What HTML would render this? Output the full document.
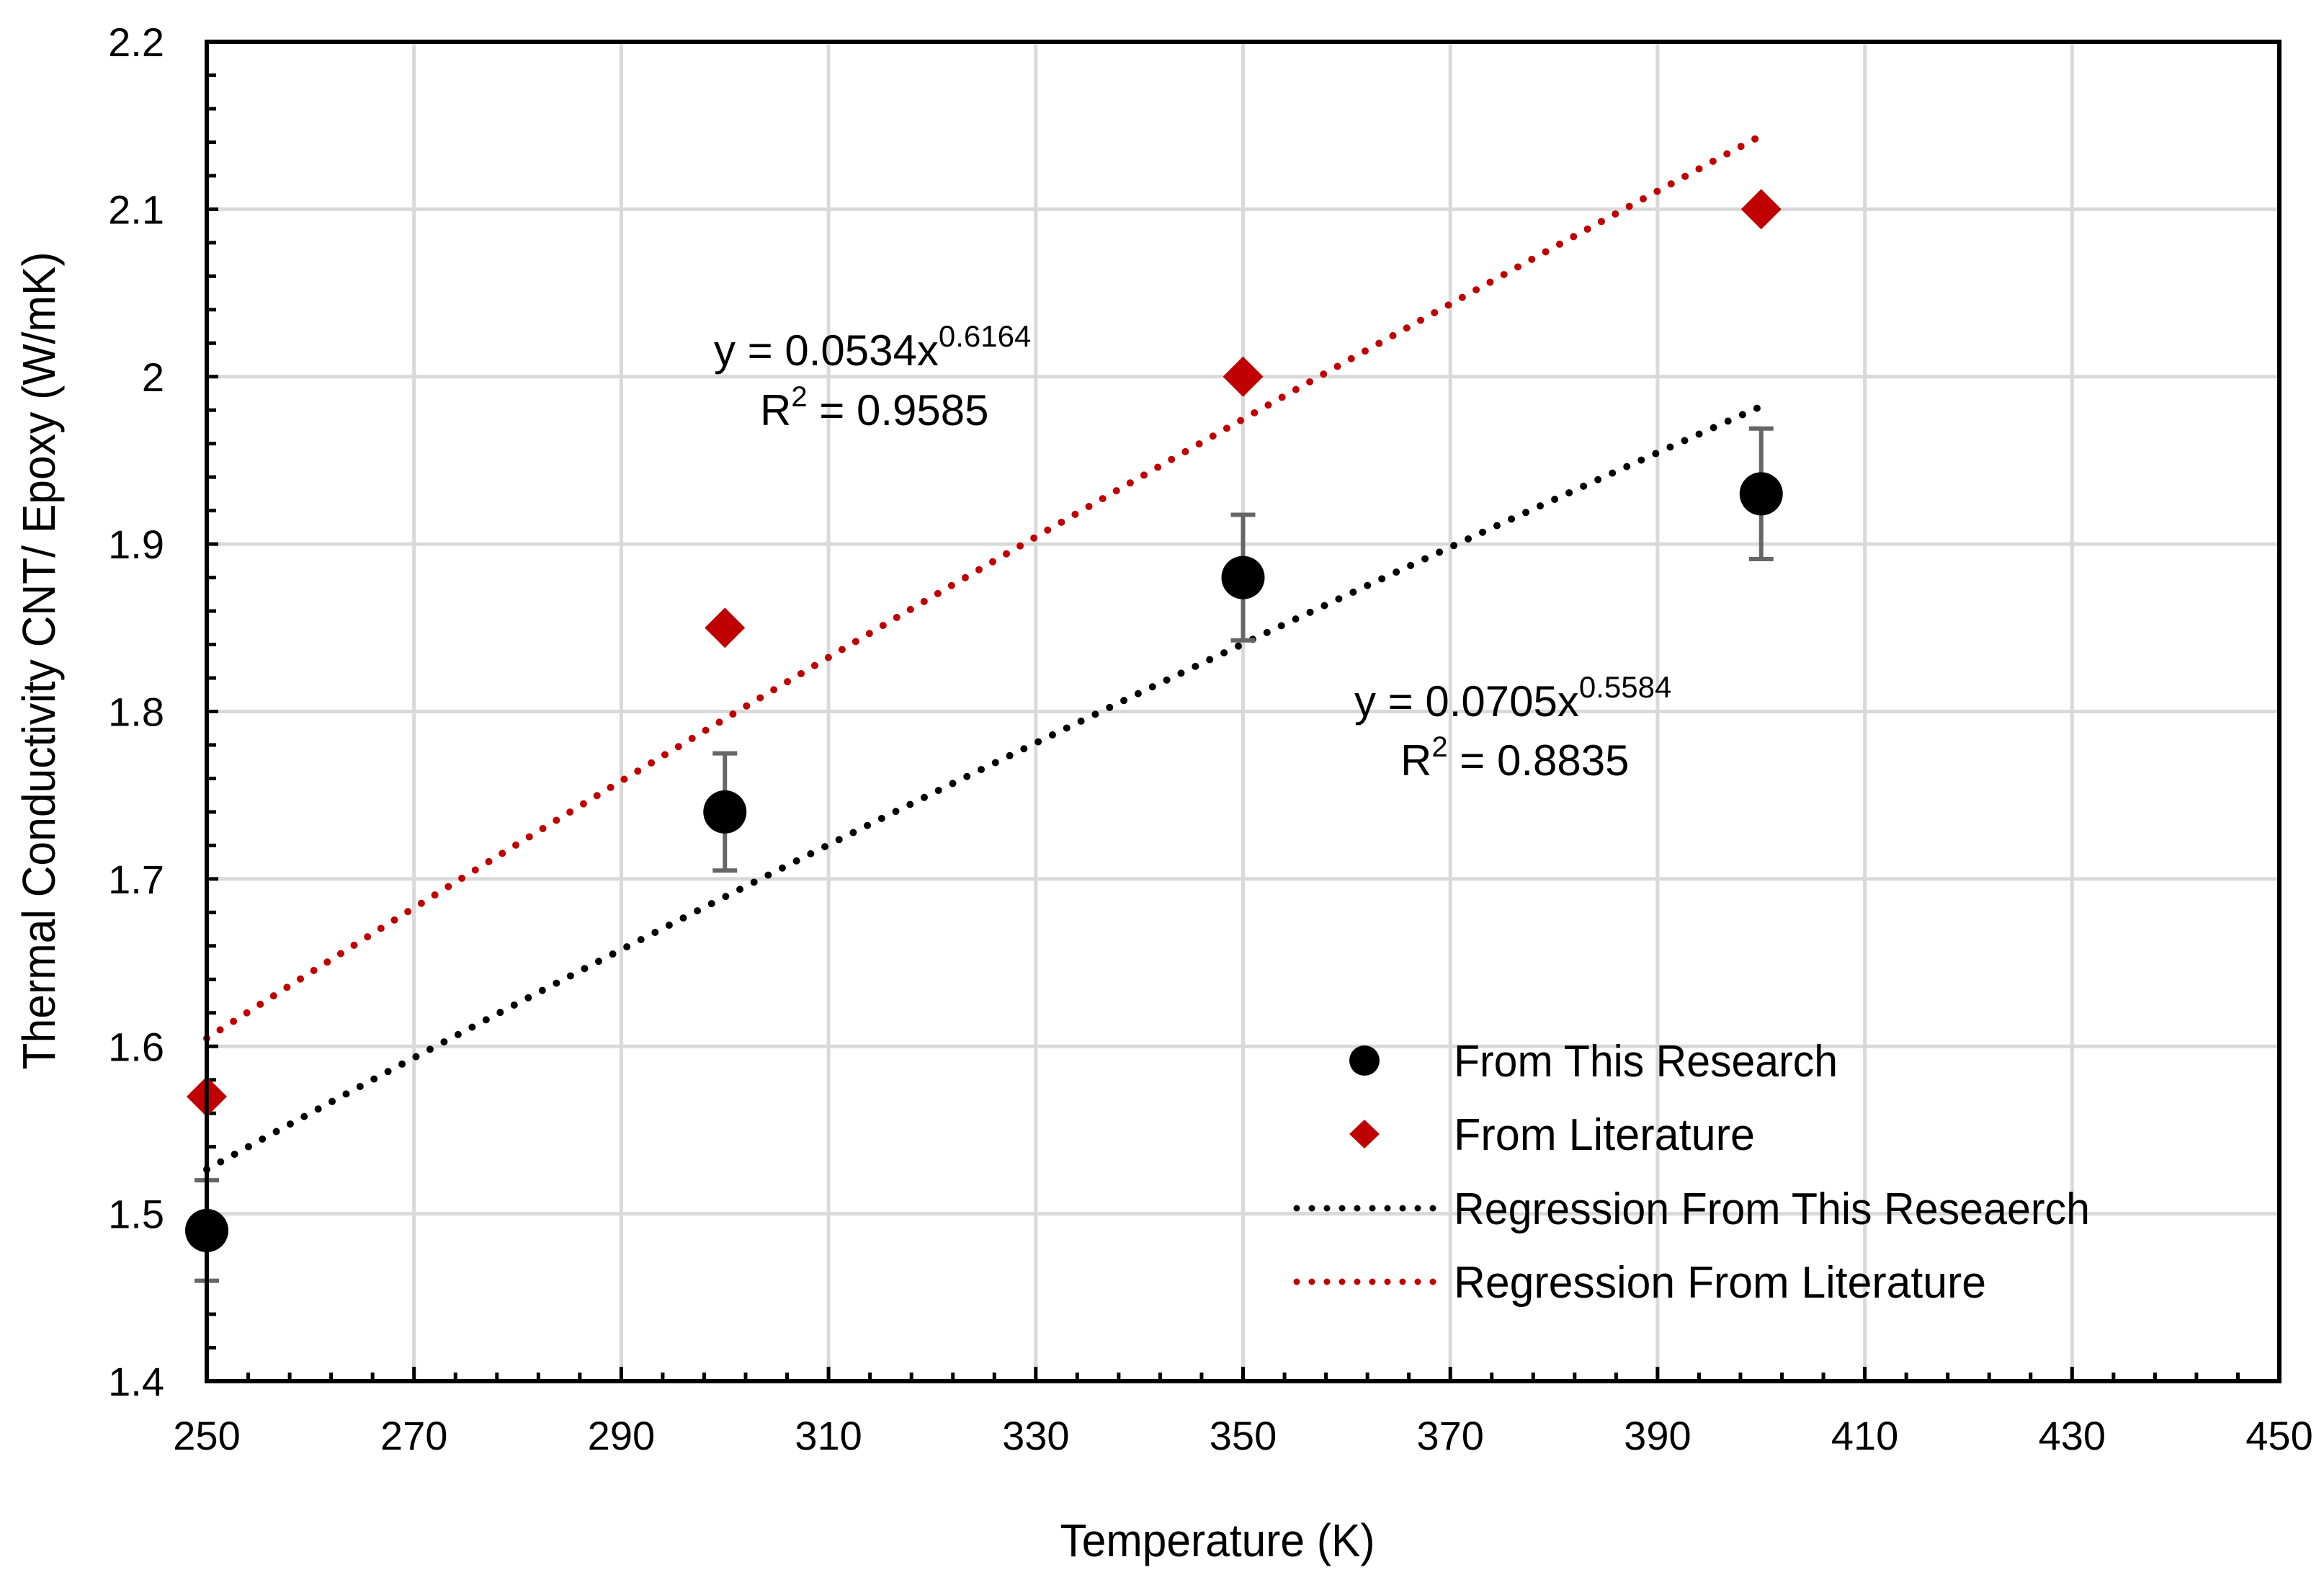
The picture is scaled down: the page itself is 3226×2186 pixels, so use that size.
<!DOCTYPE html>
<html><head><meta charset="utf-8"><style>
html,body{margin:0;padding:0;background:#fff;}
svg{display:block;font-family:"Liberation Sans",sans-serif;}
</style></head><body>
<svg id="chart" width="3226" height="2186" viewBox="0 0 3226 2186" xmlns="http://www.w3.org/2000/svg">
<g id="grid"></g>
<g id="ticks"></g>
<g id="fits"></g>
<g id="marks"></g>
<rect x="287" y="58" width="2877" height="1859" fill="none" stroke="#000" stroke-width="6"/>
<g id="labels" font-size="56" fill="#000"></g>
<text x="1690" y="2160" font-size="64" text-anchor="middle" textLength="437" lengthAdjust="spacingAndGlyphs">Temperature (K)</text>
<text transform="translate(76,917) rotate(-90)" font-size="64" text-anchor="middle" textLength="1135" lengthAdjust="spacingAndGlyphs">Thermal Conductivity CNT/ Epoxy (W/mK)</text>
<g font-size="60">
<text x="991" y="507">y = 0.0534x<tspan font-size="42" dy="-26">0.6164</tspan></text>
<text x="1055" y="590">R<tspan font-size="40" dy="-26">2</tspan><tspan dy="26"> = 0.9585</tspan></text>
</g>
<g font-size="60">
<text x="1880" y="994">y = 0.0705x<tspan font-size="42" dy="-26">0.5584</tspan></text>
<text x="1944" y="1076">R<tspan font-size="40" dy="-26">2</tspan><tspan dy="26"> = 0.8835</tspan></text>
</g>
<g font-size="62">
<circle cx="1894" cy="1472" r="21" fill="#000"/>
<text x="2018" y="1494" textLength="533" lengthAdjust="spacingAndGlyphs">From This Research</text>
<polygon points="1894,1554 1915,1574 1894,1594 1873,1574" fill="#C00000"/>
<text x="2018" y="1596" textLength="418" lengthAdjust="spacingAndGlyphs">From Literature</text>
<line x1="1800" y1="1677" x2="1990" y2="1677" stroke="#000" stroke-width="9" stroke-linecap="round" stroke-dasharray="0 21"/>
<text x="2018" y="1699" textLength="883" lengthAdjust="spacingAndGlyphs">Regression From This Reseaerch</text>
<line x1="1800" y1="1779" x2="1990" y2="1779" stroke="#C00000" stroke-width="9" stroke-linecap="round" stroke-dasharray="0 21"/>
<text x="2018" y="1801" textLength="739" lengthAdjust="spacingAndGlyphs">Regression From Literature</text>
</g>
</svg>
<script>
const temps = [250, 300, 350, 400];
const research = [1.49, 1.74, 1.88, 1.93];
const researchErr = [0.03, 0.035, 0.0375, 0.039];
const literature = [1.57, 1.85, 2.0, 2.1];
const xTicks = [250, 270, 290, 310, 330, 350, 370, 390, 410, 430, 450];
const yTicks = [1.4, 1.5, 1.6, 1.7, 1.8, 1.9, 2, 2.1, 2.2];

const NS = "http://www.w3.org/2000/svg";
const X0 = 287, X1 = 3164, Y0 = 1917, Y1 = 58;
const xs = v => X0 + (v - 250) / 200 * (X1 - X0);
const ys = v => Y0 - (v - 1.4) / 0.8 * (Y0 - Y1);
function mk(tag, attrs, parent) {
  const e = document.createElementNS(NS, tag);
  for (const k in attrs) e.setAttribute(k, attrs[k]);
  parent.appendChild(e);
  return e;
}
const grid = document.getElementById('grid');
const ticks = document.getElementById('ticks');
const labels = document.getElementById('labels');
const fits = document.getElementById('fits');
const marks = document.getElementById('marks');

xTicks.forEach(t => {
  const x = xs(t);
  const g = mk('line', {x1: x, y1: Y1, x2: x, y2: Y0, stroke: '#D9D9D9', 'stroke-width': 5}, grid);
  
  
  const tk = mk('line', {x1: x, y1: Y0, x2: x, y2: Y0 - 20, stroke: '#000', 'stroke-width': 5}, ticks);
  
  
  const lb = mk('text', {x: x, y: 2012, 'text-anchor': 'middle'}, labels);
  lb.textContent = t;
  
  
});
for (let v = 254; v < 450; v += 4) {
  if ((v - 250) % 20 === 0) continue;
  const tk = mk('line', {x1: xs(v), y1: Y0, x2: xs(v), y2: Y0 - 12, stroke: '#000', 'stroke-width': 5}, ticks);
  
  
}
yTicks.forEach(t => {
  const y = ys(t);
  const g = mk('line', {x1: X0, y1: y, x2: X1, y2: y, stroke: '#D9D9D9', 'stroke-width': 5}, grid);
  
  
  const tk = mk('line', {x1: X0, y1: y, x2: X0 + 16, y2: y, stroke: '#000', 'stroke-width': 5}, ticks);
  
  
  const lb = mk('text', {x: 228, y: y + 20, 'text-anchor': 'end'}, labels);
  lb.textContent = t;
  
  
});
for (let i = 1; i < 40; i++) {
  if (i % 5 === 0) continue;
  const y = ys(1.4 + i * 0.02);
  const tk = mk('line', {x1: X0, y1: y, x2: X0 + 13, y2: y, stroke: '#000', 'stroke-width': 5}, ticks);
  
  
}

function powerFit(xv, yv) {
  const n = xv.length;
  let sx = 0, sy = 0, sxx = 0, sxy = 0;
  for (let i = 0; i < n; i++) {
    const lx = Math.log(xv[i]), ly = Math.log(yv[i]);
    sx += lx; sy += ly; sxx += lx * lx; sxy += lx * ly;
  }
  const b = (n * sxy - sx * sy) / (n * sxx - sx * sx);
  const a = Math.exp((sy - b * sx) / n);
  return x => a * Math.pow(x, b);
}
function drawFit(yv, color, name) {
  const f = powerFit(temps, yv);
  const pts = [];
  const lo = Math.min(...temps), hi = Math.max(...temps);
  for (let i = 0; i <= 60; i++) {
    const t = lo + (hi - lo) * i / 60;
    pts.push(xs(t).toFixed(1) + ',' + ys(f(t)).toFixed(1));
  }
  const p = mk('polyline', {points: pts.join(' '), fill: 'none', stroke: color, 'stroke-width': 10, 'stroke-linecap': 'round', 'stroke-dasharray': '0 22'}, fits);
  
  
}
drawFit(research, '#000', 'regression-research');
drawFit(literature, '#C00000', 'regression-literature');

temps.forEach((t, i) => {
  const x = xs(t);
  const yt = ys(research[i] + researchErr[i]), yb = ys(research[i] - researchErr[i]);
  const eb = mk('path', {d: `M${x},${yt}V${yb}M${x - 17},${yt}H${x + 17}M${x - 17},${yb}H${x + 17}`, stroke: '#666', 'stroke-width': 6, fill: 'none'}, marks);
  
  
});
temps.forEach((t, i) => {
  const x = xs(t), y = ys(literature[i]);
  const d = mk('polygon', {points: `${x},${y - 28} ${x + 28},${y} ${x},${y + 28} ${x - 28},${y}`, fill: '#C00000'}, marks);
  
  
});
temps.forEach((t, i) => {
  const c = mk('circle', {cx: xs(t), cy: ys(research[i]), r: 30, fill: '#000'}, marks);
  
  
});
</script>
</body></html>
